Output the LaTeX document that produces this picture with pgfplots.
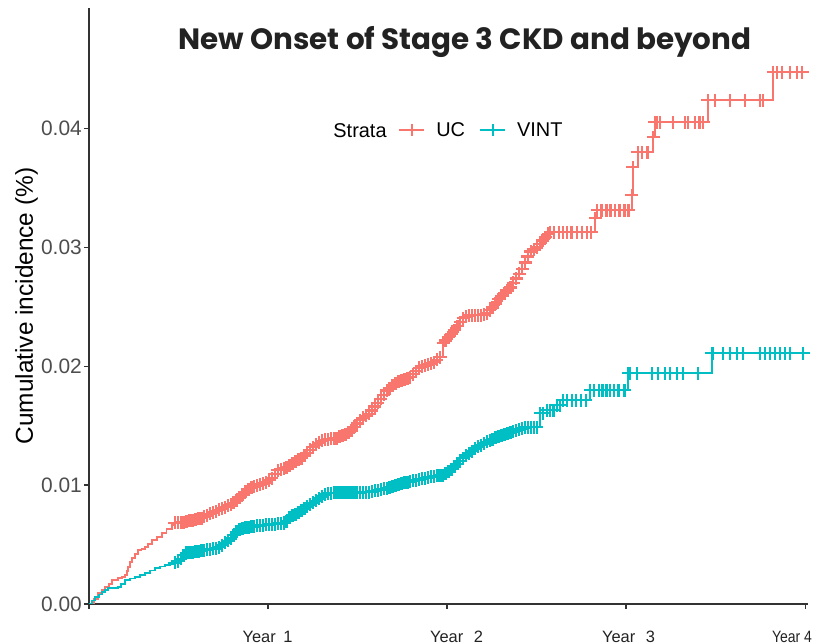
\documentclass[border=0pt]{standalone}
\usepackage{pgfplots}
\pgfplotsset{compat=1.18}
\usepackage{pgfplotstable}
\usepackage{fontspec}
\setmainfont{Liberation Sans}
\newfontfamily\titlefont{Poppins}
\definecolor{ucred}{HTML}{F8766D}
\definecolor{vintcyan}{HTML}{00BFC4}
\definecolor{axisgrey}{HTML}{333333}
\definecolor{ticktext}{HTML}{4D4D4D}
\definecolor{titlecol}{HTML}{222222}

\pgfplotstableread{
day val
0 0
10 0.00040
18 0.00092
26 0.00118
33 0.00143
40 0.00170
47 0.00202
59 0.00218
67 0.00230
73 0.00244
77 0.00280
80 0.00311
84 0.00350
88 0.00387
94 0.00420
100 0.00454
107 0.00465
114 0.00479
121 0.00505
128 0.00538
138 0.00565
149 0.00597
158 0.00630
169 0.00664
175 0.00681
181 0.00683
187 0.00685
193 0.00688
199 0.00692
205 0.00700
211 0.00706
217 0.00712
223 0.00717
229 0.00722
235 0.00733
241 0.00745
247 0.00757
253 0.00769
259 0.00780
265 0.00792
271 0.00803
277 0.00815
283 0.00827
289 0.00839
295 0.00851
301 0.00870
307 0.00895
313 0.00919
319 0.00942
325 0.00960
331 0.00980
337 0.00989
343 0.00997
349 0.01004
355 0.01012
361 0.01023
367 0.01041
373 0.01059
379 0.01092
385 0.01126
391 0.01133
397 0.01140
403 0.01150
409 0.01165
415 0.01181
421 0.01197
427 0.01212
433 0.01227
439 0.01247
445 0.01271
451 0.01295
457 0.01319
463 0.01337
469 0.01354
475 0.01372
481 0.01380
487 0.01384
493 0.01388
499 0.01391
505 0.01395
511 0.01405
517 0.01417
523 0.01428
529 0.01440
535 0.01460
541 0.01488
547 0.01517
553 0.01546
559 0.01564
565 0.01581
571 0.01599
577 0.01627
583 0.01660
589 0.01692
595 0.01725
601 0.01759
607 0.01793
613 0.01815
619 0.01835
625 0.01856
631 0.01871
637 0.01880
643 0.01889
649 0.01899
655 0.01908
661 0.01933
667 0.01958
673 0.01984
679 0.01997
685 0.02005
691 0.02012
697 0.02020
703 0.02032
709 0.02052
716 0.02076
722 0.02193
727 0.02216
733 0.02244
739 0.02272
745 0.02303
751 0.02336
757 0.02369
763 0.02403
769 0.02414
775 0.02425
781 0.02429
787 0.02429
793 0.02429
799 0.02429
805 0.02432
811 0.02445
817 0.02470
823 0.02494
829 0.02525
835 0.02562
841 0.02591
847 0.02614
853 0.02636
859 0.02662
865 0.02699
871 0.02736
877 0.02775
883 0.02818
889 0.02872
895 0.02922
901 0.02964
907 0.02981
913 0.02998
919 0.03025
925 0.03054
931 0.03083
937 0.03112
940 0.03126
948 0.03126
958 0.03126
966 0.03126
975 0.03126
984 0.03126
995 0.03126
1005 0.03126
1015 0.03126
1024 0.03126
1032 0.03244
1036 0.03311
1045 0.03311
1055 0.03311
1063 0.03311
1072 0.03311
1082 0.03311
1092 0.03311
1100 0.03311
1107 0.03437
1109 0.03672
1119 0.03798
1128 0.03798
1139 0.03798
1150 0.03924
1154 0.0405
1158 0.0405
1164 0.0405
1191 0.0405
1215 0.0405
1221 0.0405
1235 0.0405
1245 0.0405
1252 0.0405
1262 0.04235
1276 0.04235
1307 0.04235
1338 0.04235
1368 0.04235
1374 0.04235
1395 0.04471
1403 0.04471
1413 0.04471
1429 0.04471
1444 0.04471
1454 0.04471
1466 0.04471
}\uctable

\pgfplotstableread{
day val
0 0
6 0.00030
12 0.00059
20 0.00080
27 0.00101
33 0.00118
39 0.00134
59 0.00143
66 0.00170
73 0.00202
84 0.00215
94 0.00227
104 0.00244
114 0.00261
125 0.00282
135 0.00303
145 0.00316
155 0.00328
165 0.00336
175 0.00345
181 0.00360
187 0.00380
193 0.00410
199 0.00430
205 0.00433
211 0.00436
217 0.00438
223 0.00443
229 0.00448
235 0.00453
241 0.00457
247 0.00461
253 0.00464
259 0.00468
265 0.00477
271 0.00495
277 0.00513
283 0.00532
289 0.00551
295 0.00578
301 0.00607
307 0.00626
313 0.00633
319 0.00640
325 0.00647
331 0.00650
337 0.00653
343 0.00656
349 0.00659
355 0.00662
361 0.00665
367 0.00667
373 0.00670
379 0.00672
385 0.00675
391 0.00677
397 0.00680
403 0.00696
409 0.00726
415 0.00743
421 0.00756
427 0.00770
433 0.00783
439 0.00799
445 0.00816
451 0.00834
457 0.00851
463 0.00868
469 0.00886
475 0.00904
481 0.00921
487 0.00933
493 0.00933
499 0.00934
505 0.00934
511 0.00935
517 0.00935
523 0.00936
529 0.00936
535 0.00937
541 0.00937
547 0.00938
553 0.00938
559 0.00939
565 0.00939
571 0.00940
577 0.00945
583 0.00951
589 0.00957
595 0.00963
601 0.00969
607 0.00975
613 0.00982
619 0.00989
625 0.00997
631 0.01005
637 0.01013
643 0.01020
649 0.01025
655 0.01030
661 0.01035
667 0.01040
673 0.01046
679 0.01052
685 0.01058
691 0.01064
697 0.01069
703 0.01073
709 0.01077
715 0.01080
721 0.01084
727 0.01099
733 0.01117
739 0.01134
745 0.01155
751 0.01179
757 0.01203
763 0.01227
769 0.01247
775 0.01266
781 0.01286
787 0.01306
793 0.01323
799 0.01336
805 0.01349
811 0.01362
817 0.01376
823 0.01386
829 0.01396
835 0.01405
841 0.01415
847 0.01424
853 0.01433
859 0.01441
865 0.01450
871 0.01459
877 0.01467
883 0.01474
889 0.01482
895 0.01487
901 0.01487
907 0.01487
913 0.01487
920 0.01605
926 0.01605
934 0.0163
940 0.0163
947 0.0163
954 0.01672
960 0.01672
967 0.01714
975 0.01714
985 0.01714
993 0.01714
1003 0.01714
1013 0.01714
1022 0.01798
1030 0.01798
1040 0.01798
1047 0.01798
1055 0.01798
1062 0.01798
1070 0.01798
1080 0.01798
1092 0.01798
1099 0.01941
1103 0.01941
1117 0.01941
1148 0.01941
1160 0.01941
1174 0.01941
1185 0.01941
1199 0.01941
1211 0.01941
1242 0.01941
1270 0.02109
1272 0.02109
1293 0.02109
1307 0.02109
1321 0.02109
1334 0.02109
1368 0.02109
1378 0.02109
1389 0.02109
1399 0.02109
1409 0.02109
1419 0.02109
1429 0.02109
1456 0.02109
1466 0.02109
}\vinttable

\begin{document}
\begin{tikzpicture}
\useasboundingbox (-89bp,-40bp) rectangle (736bp,604bp);
\begin{axis}[
  scale only axis, width=719bp, height=596bp,
  at={(0,0)}, anchor=south west,
  xmin=0, xmax=1466, ymin=0, ymax=0.0501,
  axis x line=bottom, axis y line=left,
  axis line style={-, draw=axisgrey, line width=1.1bp},
  tick align=outside, major tick length=5bp,
  tick style={axisgrey, line width=1.1bp},
  xtick={0,365,730,1095,1460}, xticklabels={},
  ytick={0,0.01,0.02,0.03,0.04},
  scaled y ticks=false,
  y tick label style={/pgf/number format/fixed, /pgf/number format/fixed zerofill, /pgf/number format/precision=2, /pgf/number format/assume math mode=true, font=\fontsize{21}{21}\selectfont, text=ticktext, inner sep=2bp},
  ylabel={Cumulative incidence (\%)},
  ylabel style={at={(axis description cs:-0.087,0.5)}, anchor=center, font=\fontsize{24.5}{24.5}\selectfont, text=black},
  legend style={at={(axis description cs:0.430,0.795)}, anchor=west, draw=none, fill=none, font=\fontsize{20}{20}\selectfont, text=black, inner sep=0pt, /tikz/every even column/.append style={column sep=12bp}},
  legend columns=-1,
  legend image code/.code={\draw[mark repeat=2,mark phase=2,#1] plot coordinates {(0bp,0bp) (12.5bp,0bp) (25bp,0bp)};},
]
\addplot[const plot, ucred, line width=1.8bp, forget plot] table[x=day,y=val]{\uctable};
\addplot[only marks, mark=+, ucred, restrict x to domain=170:1462, forget plot, mark options={line width=2.4bp}, mark size=6.5bp] table[x=day,y=val]{\uctable};
\addplot[const plot, vintcyan, line width=1.8bp, forget plot] table[x=day,y=val]{\vinttable};
\addplot[only marks, mark=+, vintcyan, restrict x to domain=170:1462, forget plot, mark options={line width=2.4bp}, mark size=6.5bp] table[x=day,y=val]{\vinttable};
\addlegendimage{ucred, line width=2bp, mark=+, mark size=6bp}
\addlegendentry{\hspace{9bp}UC}
\addlegendimage{vintcyan, line width=2bp, mark=+, mark size=6bp}
\addlegendentry{\hspace{9bp}VINT}
\end{axis}
\node[font=\titlefont\bfseries\fontsize{29.5}{29.5}\selectfont, text=titlecol] at (376bp,562bp) {New Onset of Stage 3 CKD and beyond};
\node[font=\fontsize{20}{20}\selectfont, text=black, anchor=base] at (271bp,466bp) {Strata};
\node[font=\fontsize{16.5}{16.5}\selectfont, text=titlecol, anchor=base] at (178.5bp,-38bp) {Year\hspace{3bp} 1};
\node[font=\fontsize{16.5}{16.5}\selectfont, text=titlecol, anchor=base] at (367.5bp,-38bp) {Year\hspace{6bp} 2};
\node[font=\fontsize{16.5}{16.5}\selectfont, text=titlecol, anchor=base] at (539.5bp,-38bp) {Year\hspace{6bp} 3};
\node[font=\fontsize{16.5}{16.5}\selectfont, text=titlecol, anchor=base] at (703bp,-38bp) {\scalebox{0.85}[1]{Year 4}};
\end{tikzpicture}
\end{document}
